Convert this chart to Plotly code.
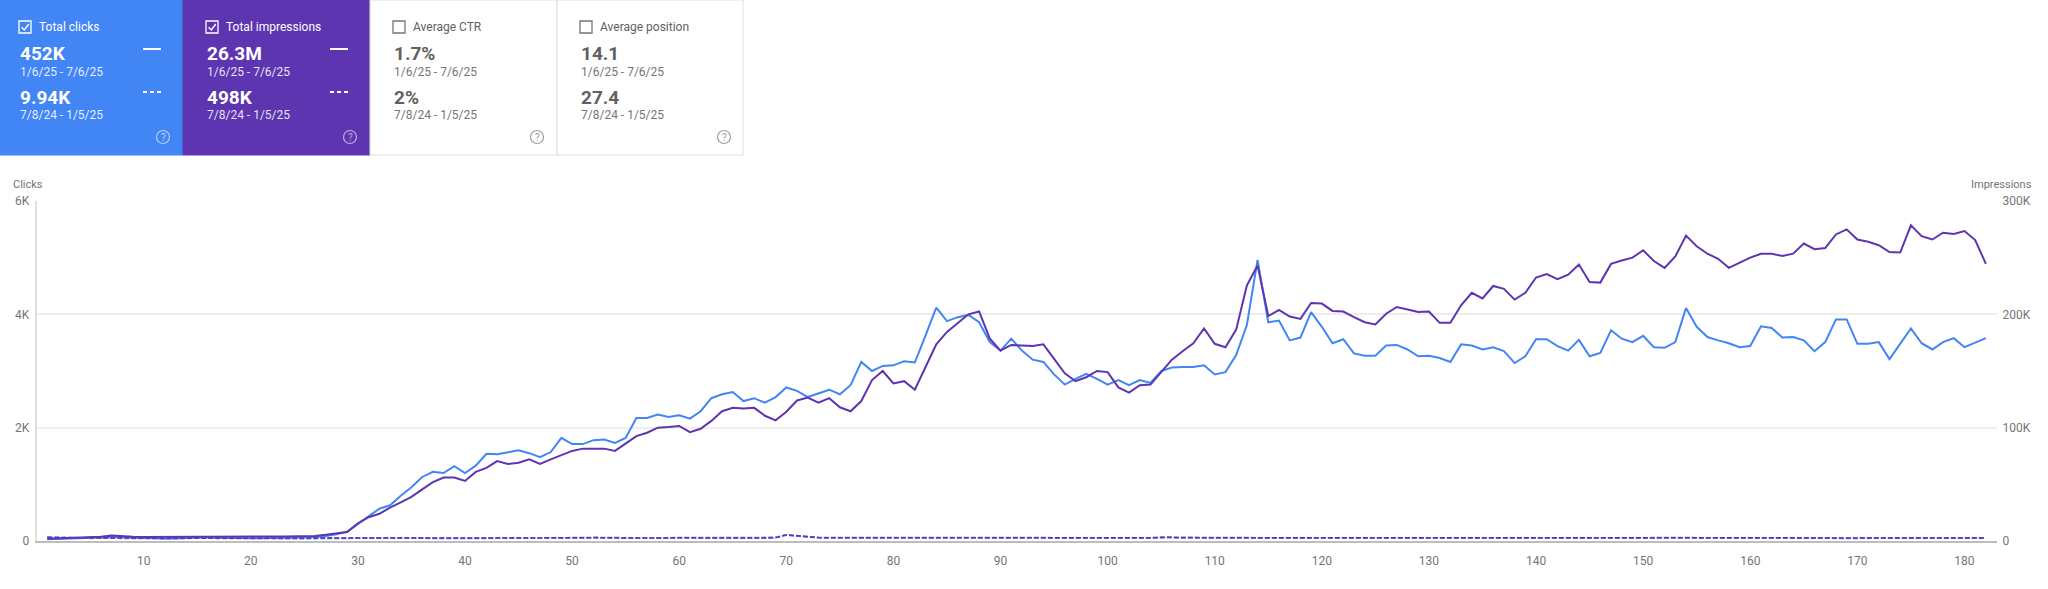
import plotly.graph_objects as go

# ---------------- data ----------------
days = list(range(1, 183))

clicks = [
    30, 35, 40, 50, 55, 60, 75, 65, 60, 55,
    50, 40, 45, 55, 60, 60, 55, 50, 50, 50,
    50, 55, 55, 55, 60, 70, 90, 120, 165, 300,
    430, 570, 630, 800, 950, 1130, 1220, 1200, 1320, 1200,
    1330, 1540, 1530, 1570, 1600, 1550, 1480, 1570, 1820, 1710,
    1710, 1780, 1790, 1730, 1820, 2170, 2170, 2230, 2190, 2220,
    2160, 2290, 2520, 2590, 2630, 2470, 2520, 2440, 2540, 2710,
    2650, 2540, 2610, 2670, 2590, 2750, 3160, 3000, 3090, 3100,
    3170, 3150, 3630, 4120, 3880, 3950, 3990, 3860, 3510, 3360,
    3570, 3360, 3200, 3160, 2940, 2760, 2860, 2950, 2860, 2760,
    2840, 2750, 2840, 2790, 3000, 3060, 3070, 3070, 3100, 2940,
    2980, 3280, 3810, 4960, 3860, 3890, 3540, 3590, 4040, 3780,
    3490, 3560, 3310, 3270, 3270, 3450, 3460, 3380, 3260, 3270,
    3230, 3160, 3470, 3450, 3380, 3420, 3350, 3140, 3260, 3560,
    3560, 3440, 3360, 3550, 3260, 3320, 3720, 3570, 3510, 3620,
    3420, 3410, 3510, 4110, 3780, 3600, 3540, 3490, 3420, 3440,
    3790, 3760, 3590, 3600, 3540, 3350, 3510, 3910, 3910, 3480,
    3480, 3510, 3210, 3490, 3750, 3490, 3380, 3510, 3580, 3420,
    3500, 3580,
]

impressions_thousands = [
    2.0, 2.25, 2.75, 3.25, 3.5, 3.75, 4.75, 4.0, 3.75, 3.6,
    3.5, 3.4, 3.4, 3.6, 3.75, 3.75, 3.9, 3.9, 4.0, 3.9,
    3.9, 4.0, 4.0, 4.0, 4.1, 4.5, 5.5, 6.75, 8.0, 15.5,
    21, 24, 29.5, 34, 39, 45.5, 52, 56, 56, 53,
    61, 64.5, 70.5, 68, 69, 72, 68, 72, 75.5, 79.5,
    81.5, 81.5, 81.5, 79.5, 86, 92.5, 95.5, 100, 100.5, 101.5,
    96, 99, 106, 114.5, 117.5, 117, 117.5, 110.5, 106.5, 114,
    124, 126.5, 122, 126, 118, 114.5, 123.5, 142, 150, 139,
    141, 133.5, 153.5, 173.5, 184.5, 192, 200, 202.5, 178.5, 168,
    173, 172.5, 172, 173.5, 161, 148, 141, 144.5, 150, 149,
    135.5, 131, 137.5, 138, 149, 160, 167.5, 174.5, 187.5, 174,
    171, 186.5, 225.5, 243, 198.5, 204, 198, 196, 210, 209.5,
    203, 202.5, 197.5, 193, 191, 200.5, 206.5, 204.5, 202, 202.5,
    192.5, 192.5, 208, 219, 214, 225, 222.5, 213, 219, 232.5,
    235.5, 231, 235, 244, 228.5, 228, 244.5, 247.5, 250, 256.5,
    247, 241, 251, 269.5, 260, 253.5, 249, 241, 245.5, 250,
    253.5, 253.5, 251.5, 253.5, 262.5, 257.5, 258.5, 270.5, 275, 266,
    264, 261, 255, 254.5, 278.5, 269, 266, 272, 271, 273.5,
    265.5, 244.5,
]

prev_clicks = [
    70, 65, 50, 48, 50, 52, 55, 52, 50, 48,
    46, 45, 47, 50, 52, 50, 48, 47, 46, 45,
    44, 45, 46, 45, 44, 46, 48, 52, 60, 58,
    55, 54, 52, 53, 58, 52, 50, 51, 50, 49,
    50, 52, 53, 52, 51, 50, 50, 52, 54, 53,
    56, 60, 65, 58, 52, 50, 54, 55, 54, 56,
    55, 54, 53, 52, 51, 52, 53, 52, 60, 105,
    90, 70, 60, 56, 55, 55, 54, 55, 56, 58,
    57, 55, 54, 50, 52, 56, 58, 57, 55, 56,
    55, 54, 54, 55, 56, 55, 54, 55, 56, 55,
    54, 53, 52, 55, 65, 62, 56, 55, 54, 55,
    56, 57, 55, 54, 53, 55, 56, 57, 58, 57,
    56, 55, 54, 55, 56, 57, 56, 55, 54, 53,
    54, 55, 56, 57, 58, 57, 55, 52, 53, 55,
    56, 58, 57, 56, 55, 56, 57, 56, 55, 56,
    55, 54, 55, 56, 55, 54, 55, 56, 55, 54,
    55, 56, 55, 54, 53, 52, 53, 54, 52, 50,
    54, 55, 56, 55, 54, 56, 58, 57, 56, 55,
    55, 54,
]

prev_impressions_thousands = [
    3.0, 2.9, 2.6, 2.5, 2.5, 2.6, 2.7, 2.6, 2.5, 2.5,
    2.4, 2.4, 2.4, 2.5, 2.5, 2.5, 2.4, 2.4, 2.4, 2.3,
    2.3, 2.3, 2.3, 2.3, 2.3, 2.4, 2.4, 2.6, 2.9, 2.8,
    2.7, 2.6, 2.6, 2.6, 2.8, 2.6, 2.5, 2.5, 2.5, 2.5,
    2.5, 2.6, 2.6, 2.6, 2.6, 2.5, 2.5, 2.6, 2.7, 2.7,
    2.8, 3.0, 3.2, 2.9, 2.6, 2.5, 2.7, 2.7, 2.7, 2.8,
    2.7, 2.7, 2.6, 2.6, 2.6, 2.6, 2.7, 2.6, 3.0, 5.5,
    4.6, 3.5, 3.0, 2.8, 2.8, 2.8, 2.7, 2.8, 2.8, 2.9,
    2.9, 2.8, 2.7, 2.5, 2.6, 2.8, 2.9, 2.9, 2.8, 2.8,
    2.8, 2.7, 2.7, 2.8, 2.8, 2.8, 2.7, 2.8, 2.8, 2.8,
    2.7, 2.7, 2.6, 2.8, 3.3, 3.1, 2.8, 2.8, 2.7, 2.8,
    2.8, 2.9, 2.8, 2.7, 2.7, 2.8, 2.8, 2.9, 2.9, 2.9,
    2.8, 2.8, 2.7, 2.8, 2.8, 2.9, 2.8, 2.8, 2.7, 2.7,
    2.7, 2.8, 2.8, 2.9, 2.9, 2.9, 2.8, 2.6, 2.7, 2.8,
    2.8, 2.9, 2.9, 2.8, 2.8, 2.8, 2.9, 2.8, 2.8, 2.8,
    2.8, 2.7, 2.8, 2.8, 2.8, 2.7, 2.8, 2.8, 2.8, 2.7,
    2.8, 2.8, 2.8, 2.7, 2.7, 2.6, 2.7, 2.7, 2.6, 2.5,
    2.7, 2.8, 2.8, 2.8, 2.7, 2.8, 2.9, 2.9, 2.8, 2.8,
    2.8, 2.7,
]

impressions = [v * 1000 for v in impressions_thousands]
prev_impressions = [v * 1000 for v in prev_impressions_thousands]

x_tick_vals = list(range(10, 181, 10))
clicks_tick_vals = [0, 2000, 4000, 6000]
clicks_tick_text = ["0", "2K", "4K", "6K"]
impr_tick_vals = [0, 100000, 200000, 300000]
impr_tick_text = ["0", "100K", "200K", "300K"]

cards = [
    {"title": "Total clicks", "v1": "452K", "d1": "1/6/25 - 7/6/25",
     "v2": "9.94K", "d2": "7/8/24 - 1/5/25", "bg": "#4285F4", "on": True},
    {"title": "Total impressions", "v1": "26.3M", "d1": "1/6/25 - 7/6/25",
     "v2": "498K", "d2": "7/8/24 - 1/5/25", "bg": "#5E35B1", "on": True},
    {"title": "Average CTR", "v1": "1.7%", "d1": "1/6/25 - 7/6/25",
     "v2": "2%", "d2": "7/8/24 - 1/5/25", "bg": "#FFFFFF", "on": False},
    {"title": "Average position", "v1": "14.1", "d1": "1/6/25 - 7/6/25",
     "v2": "27.4", "d2": "7/8/24 - 1/5/25", "bg": "#FFFFFF", "on": False},
]

# ---------------- layout helpers ----------------
W, H = 2048, 589
FONT = "Roboto, Arial, sans-serif"
BLUE = "#4285F4"
PURPLE = "#5E35B1"
GRAY = "#757575"


def px(x):
    return x / W


def py(y):
    return 1 - y / H


fig = go.Figure()

fig.add_trace(go.Scatter(x=days, y=prev_impressions, yaxis="y2", mode="lines",
                         line=dict(color=PURPLE, width=1.5, dash="5px,2px"),
                         name="Impressions (previous)", hoverinfo="skip"))
fig.add_trace(go.Scatter(x=days, y=prev_clicks, mode="lines",
                         line=dict(color=BLUE, width=2, dash="5px,2px"),
                         name="Clicks (previous)", hoverinfo="skip"))
fig.add_trace(go.Scatter(x=days, y=impressions, yaxis="y2", mode="lines",
                         line=dict(color=PURPLE, width=2),
                         name="Impressions"))
fig.add_trace(go.Scatter(x=days, y=clicks, mode="lines",
                         line=dict(color=BLUE, width=2),
                         name="Clicks"))

shapes = []
annotations = []

card_edges = [(0, 183), (183, 370), (370, 557), (557, 743)]
for i, card in enumerate(cards):
    o = 187 * i
    x0, x1 = card_edges[i]
    on = card["on"]
    fg = "#FFFFFF" if on else "#616161"
    sub = "rgba(255,255,255,0.88)" if on else GRAY
    shapes.append(dict(type="rect", xref="paper", yref="paper",
                       x0=px(x0), x1=px(x1), y0=py(155), y1=py(0),
                       fillcolor=card["bg"],
                       line=dict(color="#E0E0E0" if not on else card["bg"], width=1),
                       layer="below"))
    shapes.append(dict(type="rect", xref="paper", yref="paper",
                       x0=px(19 + o), x1=px(31 + o), y0=py(33), y1=py(21),
                       line=dict(color="#FFFFFF" if on else GRAY, width=1.3),
                       fillcolor="rgba(0,0,0,0)"))
    if on:
        shapes.append(dict(type="path", xref="paper", yref="paper",
                           path=f"M {px(21.5 + o)},{py(27.3)} L {px(24.3 + o)},{py(30)} L {px(28.8 + o)},{py(24)}",
                           line=dict(color="#FFFFFF", width=1.4)))
        shapes.append(dict(type="line", xref="paper", yref="paper",
                           x0=px(143 + o), x1=px(161 + o), y0=py(49), y1=py(49),
                           line=dict(color="#FFFFFF", width=2)))
        shapes.append(dict(type="line", xref="paper", yref="paper",
                           x0=px(143 + o), x1=px(161 + o), y0=py(92), y1=py(92),
                           line=dict(color="#FFFFFF", width=2, dash="4px,3px")))
    help_col = "rgba(255,255,255,0.6)" if on else "#9E9E9E"
    shapes.append(dict(type="circle", xref="paper", yref="paper",
                       x0=px(163 + o - 6.5), x1=px(163 + o + 6.5),
                       y0=py(137 + 6.5), y1=py(137 - 6.5),
                       line=dict(color=help_col, width=1.2)))
    annotations.append(dict(x=px(163 + o), y=py(137.5), xref="paper", yref="paper",
                            text="?", showarrow=False, xanchor="center", yanchor="middle",
                            font=dict(family=FONT, size=10, color=help_col)))
    annotations.append(dict(x=px(37 + o), y=py(27), xref="paper", yref="paper",
                            text=card["title"], showarrow=False, xanchor="left", yanchor="middle",
                            font=dict(family=FONT, size=12, color=fg)))
    annotations.append(dict(x=px(18 + o), y=py(54), xref="paper", yref="paper",
                            text=f"<b>{card['v1']}</b>", showarrow=False, xanchor="left", yanchor="middle",
                            font=dict(family=FONT, size=19, color=fg)))
    annotations.append(dict(x=px(18 + o), y=py(72), xref="paper", yref="paper",
                            text=card["d1"], showarrow=False, xanchor="left", yanchor="middle",
                            font=dict(family=FONT, size=12, color=sub)))
    annotations.append(dict(x=px(18 + o), y=py(97), xref="paper", yref="paper",
                            text=f"<b>{card['v2']}</b>", showarrow=False, xanchor="left", yanchor="middle",
                            font=dict(family=FONT, size=19, color=fg)))
    annotations.append(dict(x=px(18 + o), y=py(115), xref="paper", yref="paper",
                            text=card["d2"], showarrow=False, xanchor="left", yanchor="middle",
                            font=dict(family=FONT, size=12, color=sub)))

annotations.append(dict(x=px(11), y=py(185), xref="paper", yref="paper", text="Clicks",
                        showarrow=False, xanchor="left", yanchor="middle",
                        font=dict(family=FONT, size=11, color=GRAY)))
annotations.append(dict(x=px(2034), y=py(185), xref="paper", yref="paper", text="Impressions",
                        showarrow=False, xanchor="right", yanchor="middle",
                        font=dict(family=FONT, size=11, color=GRAY)))

fig.update_layout(
    width=W, height=H,
    margin=dict(l=0, r=0, t=0, b=0, autoexpand=False),
    paper_bgcolor="#FFFFFF", plot_bgcolor="#FFFFFF",
    showlegend=False,
    font=dict(family=FONT, color=GRAY),
    shapes=shapes,
    annotations=annotations,
    xaxis=dict(domain=[px(36.6), px(1996.6)], range=[0, 183], automargin=False,
               tickvals=x_tick_vals, showgrid=False, zeroline=False,
               showline=True, linecolor="#BDBDBD", linewidth=2,
               ticks="", ticklabelstandoff=8,
               tickfont=dict(family=FONT, size=12, color=GRAY), fixedrange=True),
    yaxis=dict(domain=[py(541), py(201)], range=[0, 6000], automargin=False,
               tickvals=clicks_tick_vals, ticktext=clicks_tick_text,
               showgrid=True, gridcolor="#EEEEEE", gridwidth=1.5, zeroline=False,
               showline=True, linecolor="#E0E0E0", linewidth=2,
               ticks="", ticklabelstandoff=3,
               tickfont=dict(family=FONT, size=12, color=GRAY), fixedrange=True),
    yaxis2=dict(overlaying="y", side="right", anchor="x", range=[0, 300000], automargin=False,
                tickvals=impr_tick_vals, ticktext=impr_tick_text,
                showgrid=False, zeroline=False, showline=False,
                ticks="", ticklabelstandoff=5,
                tickfont=dict(family=FONT, size=12, color=GRAY), fixedrange=True),
)

fig.write_html("out.html", config={"displayModeBar": False},
               post_script="document.body.style.margin='0';")
